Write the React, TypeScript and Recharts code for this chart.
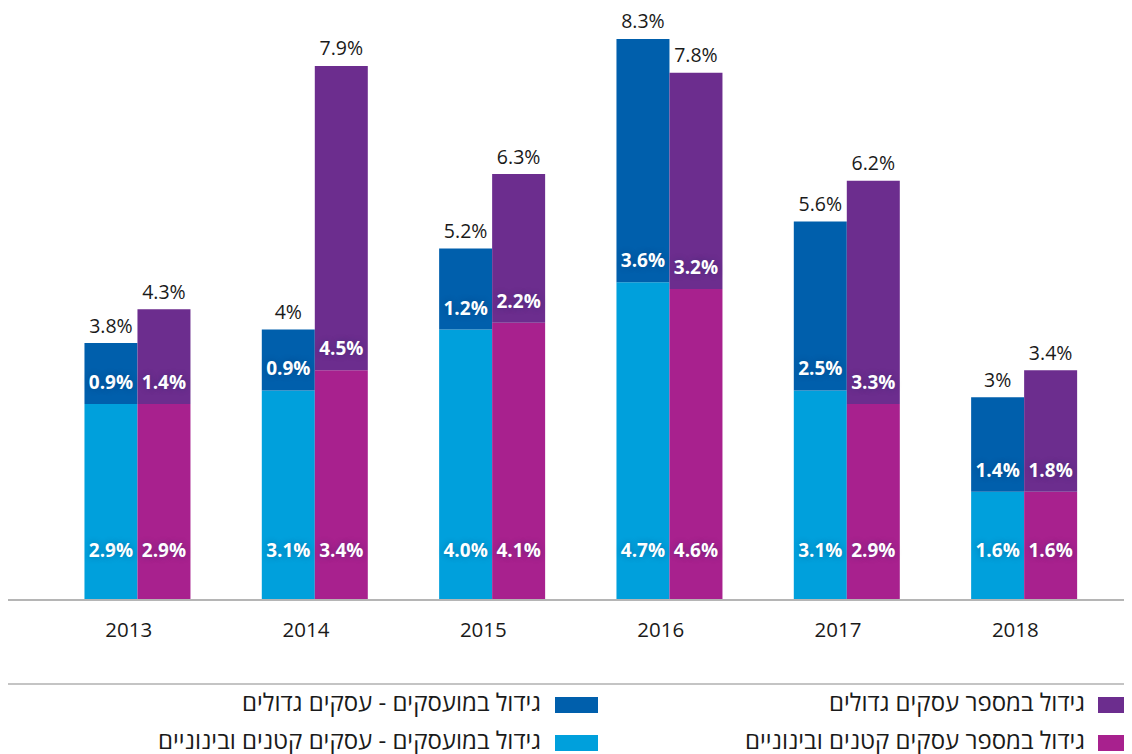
import React from 'react'
import { BarChart, Bar, XAxis, YAxis, LabelList } from 'recharts'

const years = ['2013', '2014', '2015', '2016', '2017', '2018']
const empSme = [2.9, 3.1, 4.0, 4.7, 3.1, 1.6]
const empLarge = [0.9, 0.9, 1.2, 3.6, 2.5, 1.4]
const empTotal = [3.8, 4, 5.2, 8.3, 5.6, 3]
const busSme = [2.9, 3.4, 4.1, 4.6, 2.9, 1.6]
const busLarge = [1.4, 4.5, 2.2, 3.2, 3.3, 1.8]
const busTotal = [4.3, 7.9, 6.3, 7.8, 6.2, 3.4]

const legendItems = [
  { label: 'גידול במספר עסקים גדולים', color: '#6c2d8e', col: 0, row: 0 },
  { label: 'גידול במספר עסקים קטנים ובינוניים', color: '#a8218e', col: 0, row: 1 },
  { label: 'גידול במועסקים - עסקים גדולים', color: '#005fac', col: 1, row: 0 },
  { label: 'גידול במועסקים - עסקים קטנים ובינוניים', color: '#00a0dc', col: 1, row: 1 },
]

const data = years.map((year, i) => ({
  year,
  empSme: empSme[i],
  empLarge: empLarge[i],
  empTotal: empTotal[i],
  busSme: busSme[i],
  busLarge: busLarge[i],
  busTotal: busTotal[i],
}))

const FONT = '"Open Sans", "DejaVu Sans", sans-serif'

// white value sitting a fixed distance above the segment's bottom edge
const insideLabel = (lift) => (props) => {
  const { x, y, width, height, value } = props
  return (
    <text
      x={x + width / 2}
      y={y + height - lift}
      textAnchor="middle"
      dominantBaseline="central"
      fill="#fff"
      fontSize={19}
      fontWeight={700}
      fontFamily={FONT}
      style={{ textShadow: '0 0 6px rgba(0,40,90,0.35)' }}
    >
      {Number(value).toFixed(1)}%
    </text>
  )
}

const totalLabel = (props) => {
  const { x, y, width, value } = props
  return (
    <text
      x={x + width / 2}
      y={y - 18}
      textAnchor="middle"
      dominantBaseline="central"
      fill="#1a1a1a"
      fontSize={19.5}
      fontFamily={FONT}
    >
      {value}%
    </text>
  )
}

export default function App() {
  return (
    <div style={{ position: 'relative', width: 1124, height: 746, fontFamily: FONT }}>
      <BarChart
        width={1124}
        height={652}
        data={data}
        margin={{ top: 14, right: 0, bottom: 0, left: 0 }}
        barCategoryGap="20%"
        barGap={0}
      >
        <XAxis
          dataKey="year"
          padding={{ left: 41, right: 19 }}
          axisLine={{ stroke: '#b5b5b5', strokeWidth: 2 }}
          tickLine={false}
          tickMargin={16}
          height={60}
          tick={{ fontSize: 20.5, fill: '#1a1a1a', fontFamily: FONT, dx: -9 }}
        />
        <YAxis hide domain={[0, 8.55]} />
        <Bar dataKey="empSme" stackId="emp" fill="#00a0dc" isAnimationActive={false}>
          <LabelList dataKey="empSme" content={insideLabel(50)} />
        </Bar>
        <Bar dataKey="empLarge" stackId="emp" fill="#005fac" isAnimationActive={false}>
          <LabelList dataKey="empLarge" content={insideLabel(22)} />
          <LabelList dataKey="empTotal" content={totalLabel} />
        </Bar>
        <Bar dataKey="busSme" stackId="bus" fill="#a8218e" isAnimationActive={false}>
          <LabelList dataKey="busSme" content={insideLabel(50)} />
        </Bar>
        <Bar dataKey="busLarge" stackId="bus" fill="#6c2d8e" isAnimationActive={false}>
          <LabelList dataKey="busLarge" content={insideLabel(22)} />
          <LabelList dataKey="busTotal" content={totalLabel} />
        </Bar>
      </BarChart>
      <div style={{ position: 'absolute', left: 0, top: 675, width: 1124, borderTop: '2px solid #c4c4c4' }} />
      {legendItems.map((item) => {
        const top = 689 + item.row * 38
        const squareLeft = item.col === 0 ? 1090 : 547
        const textRight = item.col === 0 ? 47 : 591
        return (
          <React.Fragment key={item.label}>
            <div style={{ position: 'absolute', left: squareLeft, top, width: 43, height: 16, background: item.color }} />
            <div
              dir="rtl"
              style={{
                position: 'absolute',
                right: textRight,
                top: top - 11,
                fontSize: 24,
                lineHeight: '32px',
                color: '#1a1a1a',
                whiteSpace: 'nowrap',
              }}
            >
              {item.label}
            </div>
          </React.Fragment>
        )
      })}
    </div>
  )
}
